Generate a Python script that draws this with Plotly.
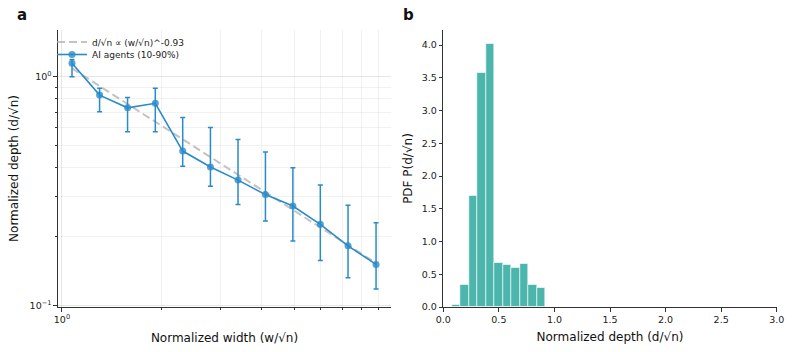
import numpy as np
import plotly.graph_objects as go

# ---- data: panel a (scaling) ----
width_norm = [1.072, 1.298, 1.576, 1.91, 2.31, 2.80, 3.39, 4.10, 4.96, 6.0, 7.27, 8.83]
depth_med = [1.145, 0.831, 0.731, 0.765, 0.473, 0.403, 0.353, 0.305, 0.272, 0.226, 0.182, 0.151]
depth_p90 = [1.19, 0.89, 0.812, 0.89, 0.664, 0.60, 0.532, 0.469, 0.40, 0.336, 0.274, 0.230]
depth_p10 = [1.0, 0.703, 0.574, 0.574, 0.406, 0.332, 0.276, 0.234, 0.191, 0.157, 0.132, 0.118]
fit_exponent = -0.93
fit_coeff = 1.16

# ---- data: panel b (histogram) ----
bin_edges = [0.081, 0.157, 0.233, 0.309, 0.385, 0.461, 0.537, 0.613, 0.689, 0.765, 0.842, 0.918]
pdf_vals = [0.03, 0.34, 1.69, 3.58, 4.02, 0.67, 0.645, 0.60, 0.66, 0.34, 0.295]

BLUE = "#2a8bc9"
TEAL = "#4db6ac"
FONT = "DejaVu Sans"

W, H = 793, 352
def fx(px):
    return px / W
def fy(py):
    return 1 - py / H

fig = go.Figure()

# fit line
xw = np.array(width_norm)
fig.add_trace(go.Scatter(
    x=xw, y=fit_coeff * xw ** fit_exponent, mode="lines",
    line=dict(color="rgba(170,170,170,0.7)", width=2, dash="8px,4px"),
    name="d/√n ∝ (w/√n)^-0.93", xaxis="x", yaxis="y", legend="legend"))

# data with error bars
med = np.array(depth_med)
fig.add_trace(go.Scatter(
    x=width_norm, y=depth_med, mode="lines+markers",
    line=dict(color=BLUE, width=1.6),
    marker=dict(color="rgba(42,139,201,0.8)", size=7),
    error_y=dict(type="data", symmetric=False,
                 array=list(np.array(depth_p90) - med),
                 arrayminus=list(med - np.array(depth_p10)),
                 color=BLUE, thickness=1.5, width=2.5),
    name="AI agents (10-90%)", xaxis="x", yaxis="y", legend="legend2"))

# histogram
edges = np.array(bin_edges)
centers = (edges[:-1] + edges[1:]) / 2
widths = np.diff(edges)
fig.add_trace(go.Bar(
    x=centers, y=pdf_vals, width=widths,
    marker=dict(color=TEAL, line=dict(color="rgba(255,255,255,0.6)", width=1)),
    showlegend=False, xaxis="x2", yaxis="y2"))

y_bottom, y_top = 307.0, 30.0
tickfont = dict(family=FONT, size=9.5, color="#222")
titlefont = dict(family=FONT, size=12, color="#111")
grid_major = "rgba(200,200,200,0.45)"
grid_minor = "rgba(200,200,200,0.25)"
legfont = dict(family=FONT, size=9, color="#222")

fig.update_layout(
    width=W, height=H,
    margin=dict(l=0, r=0, t=0, b=0, autoexpand=False),
    paper_bgcolor="white", plot_bgcolor="white",
    font=dict(family=FONT, size=9.5, color="#222"),
    bargap=0,
    xaxis=dict(
        domain=[fx(58), fx(391)], anchor="y", automargin=False,
        type="log", range=[-0.012, 0.991],
        tickvals=[1], ticktext=["10<sup>0</sup>"],
        ticks="outside", ticklen=3.5, tickwidth=1, tickcolor="#333",
        showline=True, linecolor="#333", linewidth=1.2,
        showgrid=True, gridcolor=grid_major, zeroline=False,
        minor=dict(tickvals=[2, 3, 4, 5, 6, 7, 8, 9], ticks="outside", ticklen=2,
                   tickcolor="#333", showgrid=True, gridcolor=grid_minor),
        tickfont=tickfont,
        title=dict(text="Normalized width (w/√n)", font=titlefont, standoff=9),
    ),
    yaxis=dict(
        domain=[fy(y_bottom), fy(y_top)], anchor="x", automargin=False,
        type="log", range=[-1.0074, 0.2045],
        tickvals=[0.1, 1], ticktext=["10<sup>−1</sup>", "10<sup>0</sup>"],
        ticks="outside", ticklen=3.5, tickwidth=1, tickcolor="#333",
        showline=True, linecolor="#333", linewidth=1.2,
        showgrid=True, gridcolor=grid_major, zeroline=False,
        minor=dict(tickvals=[0.2, 0.3, 0.4, 0.5, 0.6, 0.7, 0.8, 0.9], ticks="outside",
                   ticklen=2, tickcolor="#333", showgrid=True, gridcolor=grid_minor),
        tickfont=tickfont,
        title=dict(text="Normalized depth (d/√n)", font=titlefont, standoff=8),
    ),
    xaxis2=dict(
        domain=[fx(443.3), fx(776.7)], anchor="y2", automargin=False,
        range=[0, 3], tickvals=[0, 0.5, 1, 1.5, 2, 2.5, 3], tickformat=".1f",
        ticks="outside", ticklen=3.5, tickwidth=1, tickcolor="#333",
        showline=True, linecolor="#333", linewidth=1.2,
        showgrid=False, zeroline=False, tickfont=tickfont,
        title=dict(text="Normalized depth (d/√n)", font=titlefont, standoff=8),
    ),
    yaxis2=dict(
        domain=[fy(y_bottom), fy(y_top)], anchor="x2", automargin=False,
        range=[0, 4.23], tickvals=[0, 0.5, 1, 1.5, 2, 2.5, 3, 3.5, 4], tickformat=".1f",
        ticks="outside", ticklen=3.5, tickwidth=1, tickcolor="#333",
        showline=True, linecolor="#333", linewidth=1.2,
        showgrid=False, zeroline=False, tickfont=tickfont,
        title=dict(text="PDF P(d/√n)", font=titlefont, standoff=6),
    ),
    legend=dict(x=fx(52), y=fy(42), xanchor="left", yanchor="middle",
                bgcolor="rgba(255,255,255,0)", font=legfont, itemwidth=30),
    legend2=dict(x=fx(52), y=fy(54.5), xanchor="left", yanchor="middle",
                 bgcolor="rgba(255,255,255,0)", font=legfont, itemwidth=30),
    annotations=[
        dict(text="<b>a</b>", x=fx(22), y=fy(15), xref="paper", yref="paper",
             xanchor="center", yanchor="middle",
             showarrow=False, font=dict(family=FONT, size=15, color="#111")),
        dict(text="<b>b</b>", x=fx(408.5), y=fy(15), xref="paper", yref="paper",
             xanchor="center", yanchor="middle",
             showarrow=False, font=dict(family=FONT, size=15, color="#111")),
    ],
)

fig.write_html("out.html", config={"displayModeBar": False},
               post_script="document.body.style.margin='0';document.body.style.overflow='hidden';")
